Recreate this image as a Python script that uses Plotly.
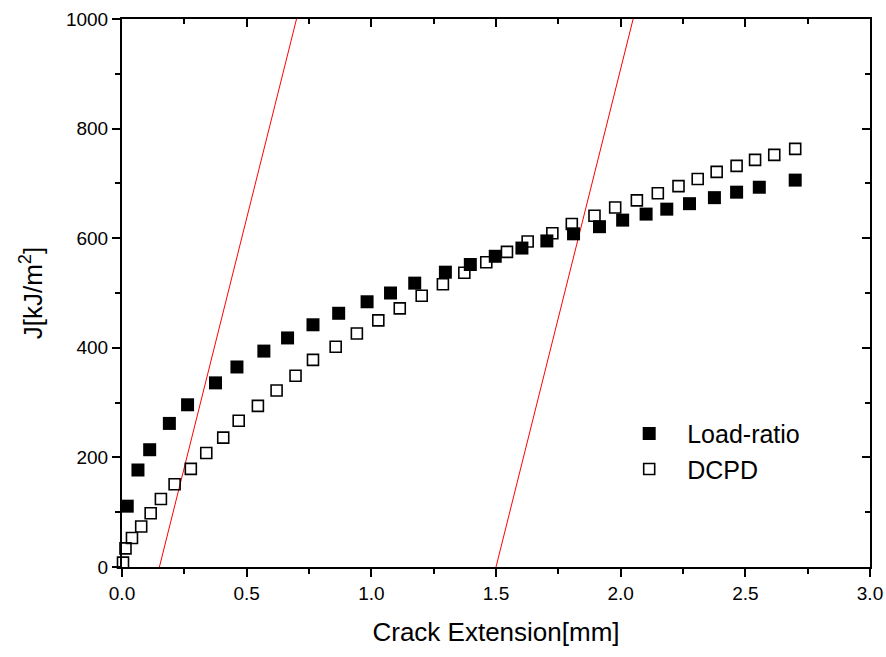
import plotly.graph_objects as go

# Load-ratio (filled squares)
lr_x = [0.021, 0.064, 0.111, 0.190, 0.263, 0.375, 0.461, 0.569, 0.664, 0.766,
        0.869, 0.983, 1.077, 1.174, 1.297, 1.397, 1.497, 1.604, 1.704, 1.811,
        1.915, 2.008, 2.102, 2.185, 2.276, 2.376, 2.465, 2.556, 2.700]
lr_y = [111, 177, 214, 262, 296, 336, 365, 394, 418, 442,
        463, 484, 500, 518, 538, 552, 567, 582, 595, 608,
        621, 633, 644, 653, 663, 674, 684, 693, 706]

# DCPD (open squares)
dc_x = [0.004, 0.014, 0.040, 0.077, 0.115, 0.156, 0.211, 0.276, 0.338, 0.406,
        0.468, 0.545, 0.620, 0.696, 0.766, 0.857, 0.942, 1.028, 1.114, 1.202,
        1.287, 1.373, 1.461, 1.544, 1.627, 1.726, 1.804, 1.895, 1.978, 2.065,
        2.149, 2.232, 2.309, 2.385, 2.465, 2.539, 2.616, 2.700]
dc_y = [8, 34, 53, 74, 98, 124, 151, 179, 208, 236,
        267, 294, 322, 349, 378, 402, 426, 450, 472, 495,
        516, 537, 556, 575, 594, 609, 626, 641, 656, 669,
        682, 695, 708, 721, 732, 743, 752, 763]

# exclusion (offset) lines
ex1_x = [0.15, 0.70]
ex1_y = [0, 1000]
ex2_x = [1.50, 2.05]
ex2_y = [0, 1000]

FONT = "Liberation Sans, Arial, sans-serif"

fig = go.Figure()
fig.add_trace(go.Scatter(x=ex1_x, y=ex1_y, mode="lines",
                         line=dict(color="#ff0000", width=1), showlegend=False,
                         hoverinfo="skip"))
fig.add_trace(go.Scatter(x=ex2_x, y=ex2_y, mode="lines",
                         line=dict(color="#ff0000", width=1), showlegend=False,
                         hoverinfo="skip"))
fig.add_trace(go.Scatter(x=lr_x, y=lr_y, mode="markers", name="Load-ratio",
                         marker=dict(symbol="square", size=13, color="black",
                                     line=dict(width=0)), cliponaxis=False))
fig.add_trace(go.Scatter(x=dc_x, y=dc_y, mode="markers", name="DCPD",
                         marker=dict(symbol="square-open", size=11, color="black",
                                     line=dict(width=1.6)), cliponaxis=False))
# dummy trace for mirrored axes
fig.add_trace(go.Scatter(x=[0], y=[0], xaxis="x2", yaxis="y2", mode="markers",
                         marker=dict(opacity=0), showlegend=False,
                         hoverinfo="skip"))

common_tick = dict(tickfont=dict(family=FONT, size=19, color="black"),
                   linecolor="black", linewidth=2, showgrid=False, zeroline=False,
                   tickcolor="black", tickwidth=2, automargin=False)

fig.update_layout(
    width=886, height=657,
    margin=dict(l=122, r=16, t=19, b=90),
    paper_bgcolor="white", plot_bgcolor="white",
    font=dict(family=FONT, color="black"),
    xaxis=dict(range=[0, 3], dtick=0.5, tickformat=".1f", ticks="outside",
               ticklen=8, showline=True, ticklabeloverflow="allow",
               minor=dict(dtick=0.25, ticks="outside", ticklen=5,
                          tickcolor="black", tickwidth=2),
               title=dict(text="Crack Extension[mm]",
                          font=dict(family=FONT, size=26, color="black"),
                          standoff=20),
               **common_tick),
    yaxis=dict(range=[0, 1000], dtick=200, ticks="outside", ticklen=8,
               showline=True,
               minor=dict(dtick=100, ticks="outside", ticklen=5,
                          tickcolor="black", tickwidth=2),
               title=dict(text="J[kJ/m<sup>2</sup>]",
                          font=dict(family=FONT, size=26, color="black"),
                          standoff=16),
               **common_tick),
    xaxis2=dict(range=[0, 3], dtick=0.5, overlaying="x", side="top",
                anchor="y", ticks="inside", ticklen=8, showticklabels=False,
                showline=True,
                minor=dict(dtick=0.25, ticks="inside", ticklen=5,
                           tickcolor="black", tickwidth=2),
                **common_tick),
    yaxis2=dict(range=[0, 1000], dtick=200, overlaying="y", side="right",
                anchor="x", ticks="inside", ticklen=8, showticklabels=False,
                showline=True,
                minor=dict(dtick=100, ticks="inside", ticklen=5,
                           tickcolor="black", tickwidth=2),
                **common_tick),
    legend=dict(x=0.654, y=0.285, xanchor="left", yanchor="top",
                font=dict(family=FONT, size=25, color="black"),
                bgcolor="rgba(0,0,0,0)", itemwidth=66, tracegroupgap=0),
)

fig.write_html("out.html")
